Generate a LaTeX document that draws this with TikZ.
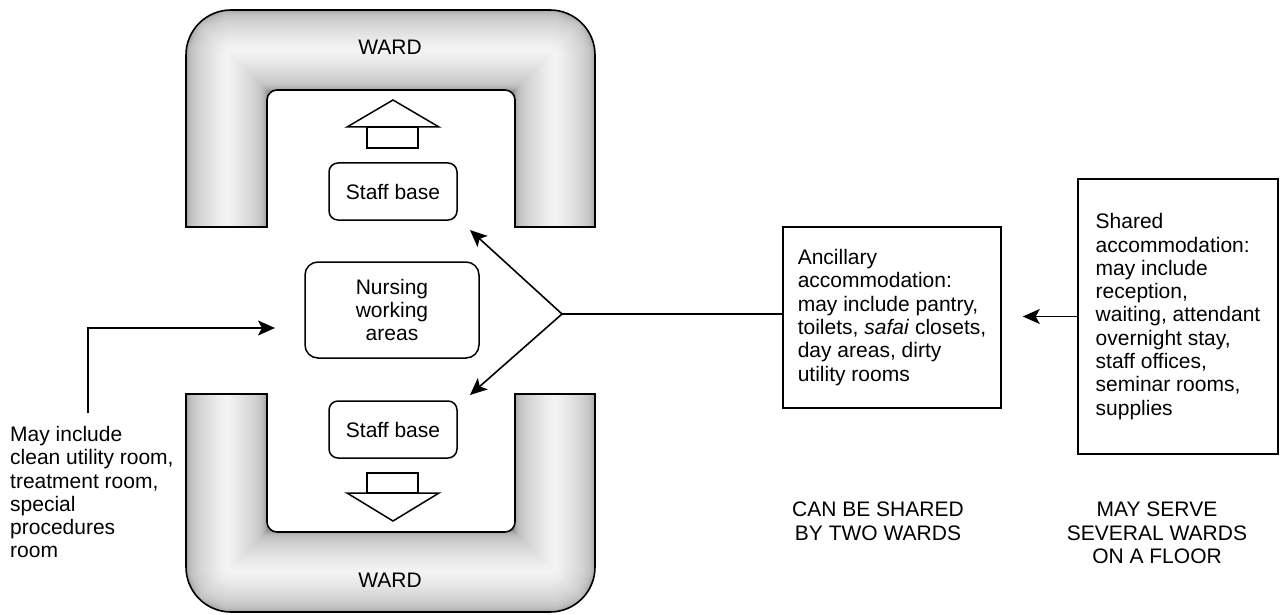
\documentclass[tikz,border=0pt]{standalone}
\usepackage{fontspec}
\setmainfont{Liberation Sans}
\usetikzlibrary{arrows.meta}
\newcommand\bodyfont{\fontsize{21}{23.3}\selectfont}
\begin{document}
\begin{tikzpicture}[x=1pt,y=-1pt,
  txt/.style={font=\bodyfont, inner sep=0pt},
  roundbox/.style={draw, line width=1.5pt, rounded corners=9pt, font=\bodyfont, align=center, inner sep=0pt},
  plainbox/.style={draw, line width=1.5pt, font=\bodyfont, align=left, inner sep=0pt},
  arr/.style={line width=1.6pt, -{Stealth[length=17pt,width=15pt,inset=4pt]}},
  wardline/.style={draw, line width=1.6pt},
  sign/.style={line width=1.5pt, line join=miter},
]
\useasboundingbox (0,0) rectangle (1280,615);

% tube shading: concentric strokes along the centre line of a ward
\newcommand\tube[1]{%
  \foreach \i in {0,...,40} {%
    \pgfmathsetmacro\w{84-2*\i}%
    \pgfmathsetmacro\c{4+22*(\w/84)^1.2+18*(\w/84)^12}%
    \draw[line width=\w pt, black!\c, rounded corners=5pt] #1;%
  }}

% upper ward
\path[wardline, path picture={\tube{(226.5,240) -- (226.5,50) -- (555,50) -- (555,240)}}]
  (186,227) -- (186,55) arc[start angle=180, end angle=270, radius=45]
  -- (550,10) arc[start angle=270, end angle=360, radius=45]
  -- (595,227) -- (515,227) -- (515,100) arc[start angle=0, end angle=-90, radius=10]
  -- (277,90) arc[start angle=270, end angle=180, radius=10] -- (267,227) -- cycle;

% lower ward
\path[wardline, path picture={\tube{(226.5,380) -- (226.5,572) -- (555,572) -- (555,380)}}]
  (186,394) -- (186,567) arc[start angle=180, end angle=90, radius=45]
  -- (550,612) arc[start angle=90, end angle=0, radius=45]
  -- (595,394) -- (515,394) -- (515,522) arc[start angle=0, end angle=90, radius=10]
  -- (277,532) arc[start angle=90, end angle=180, radius=10] -- (267,394) -- cycle;

\node[txt] (wardT) at (390,47) {WARD};
\node[txt] (wardB) at (390,580) {WARD};

% direction signs
\draw[sign] (347,127) -- (393,100) -- (439,127) -- cycle;
\draw[sign] (367,127) rectangle (418,148);
\draw[sign] (367,473) rectangle (418,493);
\draw[sign] (347,493) -- (439,493) -- (393,521) -- cycle;

% boxes
\node[roundbox, minimum width=128pt, minimum height=57pt] (staffT) at (393,191.5) {Staff base};
\node[roundbox, minimum width=128pt, minimum height=57pt] (staffB) at (393,429.5) {Staff base};
\node[roundbox, rounded corners=13pt, minimum width=174pt, minimum height=96pt] (nurse) at (392,310) {Nursing\\working\\areas};

\node[plainbox, minimum width=218pt, minimum height=181pt] (anc) at (892,317.5)
  {Ancillary\\accommodation:\\may include pantry,\\toilets, \textit{safai} closets,\\day areas, dirty\\utility rooms};
\node[plainbox, minimum width=200pt, minimum height=275pt] (shared) at (1178,316.5)
  {Shared\\accommodation:\\may include\\reception,\\waiting, attendant\\overnight stay,\\staff offices,\\seminar rooms,\\supplies};

\node[txt, align=left, anchor=north west] (note) at (10,426)
  {May include\\clean utility room,\\treatment room,\\special\\procedures\\room};

\node[txt, align=center, anchor=north] (twoWards) at (878,502) {CAN BE SHARED\\BY TWO WARDS};
\node[txt, align=center, anchor=north] (several) at (1157,502) {MAY SERVE\\SEVERAL WARDS\\ON A FLOOR};

% connectors
\coordinate (fork) at (562,314);
\coordinate (tipT) at (470,230);
\coordinate (tipB) at (470,395);
\coordinate (noteTop) at (88,413);
\coordinate (inTip) at (275,328);

\draw[line width=1.6pt] (fork) -- (fork -| anc.west);
\draw[arr] (fork) -- (tipT);
\draw[arr] (fork) -- (tipB);
\draw[arr, shorten >=21pt] (shared.west) -- (shared.west -| anc.east);
\draw[arr] (noteTop) |- (inTip);
\end{tikzpicture}
\end{document}
